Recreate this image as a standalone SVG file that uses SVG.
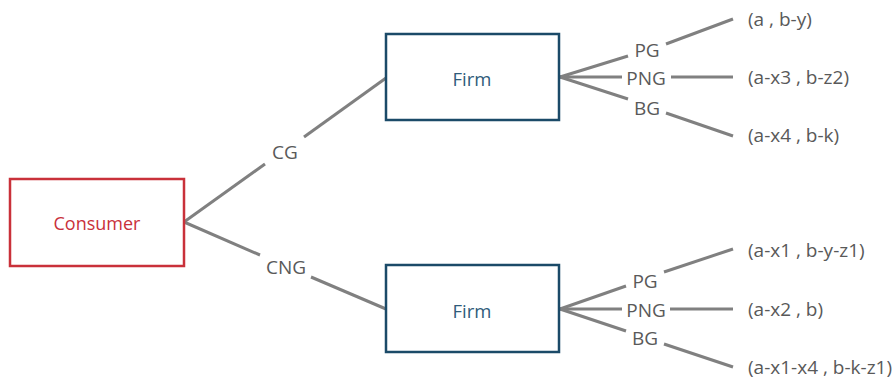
<svg xmlns="http://www.w3.org/2000/svg" width="896" height="381" viewBox="0 0 896 381">
<style>
.box{fill:#fff;stroke-width:2.5}
.c{stroke:#c9313a}
.f{stroke:#1b4a68}
.ct{fill:#c9313a;font-family:"Open Sans",sans-serif;font-size:18px;text-anchor:middle;dominant-baseline:central}
.ft{fill:#2f5b7a;font-family:"Open Sans",sans-serif;font-size:18.5px;text-anchor:middle;dominant-baseline:central}
.lbl{fill:#595959;font-family:"Open Sans",sans-serif;font-size:19px;text-anchor:middle;dominant-baseline:central}
.leaf{fill:#595959;font-family:"Open Sans",sans-serif;font-size:19px;dominant-baseline:central}
.ln{stroke:#808080;stroke-width:3;fill:none}
</style>
<rect width="896" height="381" fill="#fff"/>
<g id="connectors">
<line class="ln" x1="184" y1="222" x2="265" y2="164"/>
<line class="ln" x1="304" y1="137" x2="386" y2="78"/>
<line class="ln" x1="184" y1="222" x2="260" y2="255"/>
<line class="ln" x1="311" y1="277" x2="386" y2="309"/>
<line class="ln" x1="560" y1="77" x2="628" y2="56"/>
<line class="ln" x1="666" y1="44" x2="733" y2="19"/>
<line class="ln" x1="560" y1="77" x2="622" y2="77"/>
<line class="ln" x1="671" y1="77" x2="733" y2="77"/>
<line class="ln" x1="560" y1="77" x2="628" y2="99"/>
<line class="ln" x1="666" y1="113" x2="733" y2="136"/>
<line class="ln" x1="560" y1="309" x2="626" y2="286"/>
<line class="ln" x1="664" y1="272" x2="733" y2="249"/>
<line class="ln" x1="560" y1="309" x2="622" y2="309"/>
<line class="ln" x1="670" y1="309" x2="733" y2="309"/>
<line class="ln" x1="560" y1="309" x2="626" y2="331"/>
<line class="ln" x1="664" y1="344" x2="733" y2="367"/>
<text class="lbl" x="285" y="152">CG</text>
<text class="lbl" x="286" y="267">CNG</text>
<text class="lbl" x="647" y="50">PG</text>
<text class="lbl" x="646" y="78">PNG</text>
<text class="lbl" x="647" y="108">BG</text>
<text class="lbl" x="645" y="281">PG</text>
<text class="lbl" x="646" y="310">PNG</text>
<text class="lbl" x="645" y="338">BG</text>
</g>
<g id="consumer">
<rect class="box c" x="10" y="179" width="174" height="87"/>
<text class="ct" x="97" y="223">Consumer</text>
</g>
<g id="firm1">
<rect class="box f" x="386" y="34" width="173" height="86"/>
<text class="ft" x="472" y="78">Firm</text>
</g>
<g id="firm2">
<rect class="box f" x="386" y="265" width="173" height="87"/>
<text class="ft" x="472" y="310">Firm</text>
</g>
<g id="leaf1"><text class="leaf" x="748" y="19">(a , b-y)</text></g>
<g id="leaf2"><text class="leaf" x="748" y="77">(a-x3 , b-z2)</text></g>
<g id="leaf3"><text class="leaf" x="748" y="135">(a-x4 , b-k)</text></g>
<g id="leaf4"><text class="leaf" x="748" y="250">(a-x1 , b-y-z1)</text></g>
<g id="leaf5"><text class="leaf" x="748" y="309">(a-x2 , b)</text></g>
<g id="leaf6"><text class="leaf" x="748" y="367">(a-x1-x4 , b-k-z1)</text></g>
</svg>
